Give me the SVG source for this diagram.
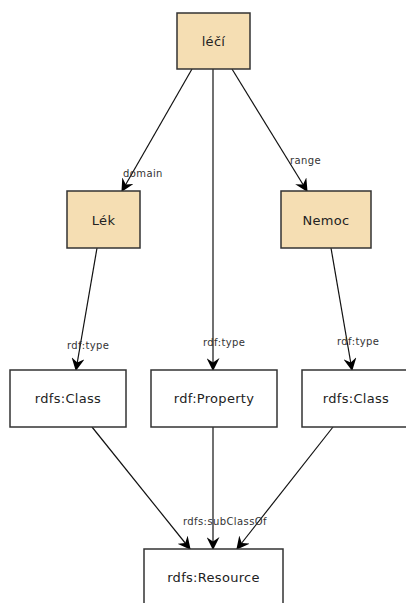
<svg xmlns="http://www.w3.org/2000/svg" width="406" height="603" viewBox="0 0 406 603">
  <defs>
    <marker id="vee" viewBox="0 0 12 12" refX="11" refY="6" markerWidth="13" markerHeight="13" markerUnits="userSpaceOnUse" orient="auto">
      <path d="M0,0 L12,6 L0,12 L4,6 Z" fill="#000"/>
    </marker>
    <style>
      .node rect { stroke: #333; stroke-width: 1.5; }
      .cls rect { fill: #f5deb3; }
      .plain rect { fill: #fff; }
      .node text { font-family: "DejaVu Sans", sans-serif; font-size: 13px; letter-spacing: 0.3px; fill: #222; text-anchor: middle; dominant-baseline: central; }
      .edges line { stroke: #111; stroke-width: 1.2; marker-end: url(#vee); }
      .edges text { font-family: "DejaVu Sans", sans-serif; font-size: 10px; letter-spacing: 0.4px; fill: #333; dominant-baseline: central; }
    </style>
  </defs>
  <rect width="406" height="603" fill="#fff"/>

  <g class="edges">
    <line x1="192" y1="69" x2="122" y2="191"/>
    <line x1="232" y1="69" x2="307" y2="191"/>
    <line x1="213" y1="69" x2="213" y2="370"/>
    <line x1="97" y1="248" x2="76" y2="370"/>
    <line x1="331" y1="248" x2="352" y2="370"/>
    <line x1="92" y1="427" x2="190" y2="549"/>
    <line x1="213" y1="427" x2="213" y2="549"/>
    <line x1="333" y1="427" x2="237" y2="549"/>
    <text x="123" y="173">domain</text>
    <text x="290" y="160">range</text>
    <text x="67" y="345">rdf:type</text>
    <text x="203" y="342">rdf:type</text>
    <text x="337" y="341">rdf:type</text>
    <text x="183" y="521">rdfs:subClassOf</text>
  </g>

  <g id="leci" class="node cls">
    <rect x="177" y="13" width="73" height="56"/>
    <text x="213.5" y="41">léčí</text>
  </g>
  <g id="lek" class="node cls">
    <rect x="67" y="191" width="73" height="57"/>
    <text x="103.5" y="220">Lék</text>
  </g>
  <g id="nemoc" class="node cls">
    <rect x="281" y="191" width="90" height="57"/>
    <text x="326" y="220">Nemoc</text>
  </g>
  <g id="class1" class="node plain">
    <rect x="10" y="370" width="116" height="57"/>
    <text x="68" y="398">rdfs:Class</text>
  </g>
  <g id="property" class="node plain">
    <rect x="151" y="370" width="126" height="57"/>
    <text x="214" y="398">rdf:Property</text>
  </g>
  <g id="class2" class="node plain">
    <rect x="302" y="370" width="116" height="57"/>
    <text x="356" y="398">rdfs:Class</text>
  </g>
  <g id="resource" class="node plain">
    <rect x="144" y="549" width="139" height="57"/>
    <text x="213.5" y="577">rdfs:Resource</text>
  </g>
</svg>
